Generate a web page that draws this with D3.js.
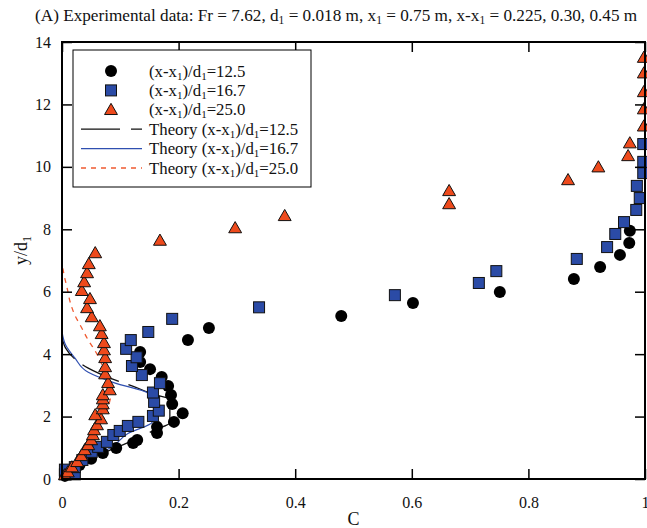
<!DOCTYPE html>
<html>
<head>
<meta charset="utf-8">
<script src="https://cdn.jsdelivr.net/npm/d3@7"></script>
<style>
  body { margin: 0; background: #fff; }
  svg text { font-family: "Liberation Serif", "Times New Roman", serif; fill: #111; }
</style>
</head>
<body>
<div id="chart"></div>
<script>
// Measured points (C, y/d1)
const circles125 = [
  [0.005, 0.10], [0.015, 0.25], [0.03, 0.45], [0.05, 0.65], [0.070, 0.83], [0.093, 0.99],
  [0.122, 1.15], [0.129, 1.25], [0.163, 1.47], [0.163, 1.67], [0.192, 1.83], [0.207, 2.11],
  [0.189, 2.40], [0.187, 2.69], [0.182, 2.98], [0.171, 3.27], [0.151, 3.52], [0.134, 3.75],
  [0.134, 4.07], [0.216, 4.45], [0.252, 4.84], [0.479, 5.22], [0.602, 5.64], [0.751, 5.99],
  [0.878, 6.41], [0.923, 6.79], [0.957, 7.18], [0.973, 7.56], [0.974, 7.95]
];
const squares167 = [
  [0.005, 0.15], [0.022, 0.15], [0.005, 0.30], [0.022, 0.38], [0.035, 0.61], [0.051, 0.87],
  [0.062, 1.03], [0.077, 1.19], [0.088, 1.41], [0.099, 1.54], [0.113, 1.70], [0.131, 1.83],
  [0.156, 2.02], [0.166, 2.19], [0.158, 2.47], [0.156, 2.77], [0.168, 3.07], [0.137, 3.33],
  [0.120, 3.62], [0.128, 3.90], [0.110, 4.17], [0.118, 4.45], [0.148, 4.71], [0.189, 5.13],
  [0.338, 5.50], [0.571, 5.89], [0.715, 6.28], [0.745, 6.66], [0.883, 7.05], [0.935, 7.43],
  [0.949, 7.85], [0.964, 8.23], [0.985, 8.62], [0.991, 9.00], [0.986, 9.39], [0.997, 9.80],
  [0.997, 10.16], [0.997, 10.73]
];
const triangles250 = [
  [0.005, 0.13], [0.010, 0.22], [0.017, 0.38], [0.026, 0.55], [0.033, 0.74], [0.039, 0.93],
  [0.045, 1.09], [0.050, 1.25], [0.053, 1.41], [0.055, 1.57], [0.060, 1.73], [0.067, 1.92],
  [0.057, 2.05], [0.070, 2.24], [0.070, 2.40], [0.070, 2.56], [0.070, 2.69], [0.082, 2.85],
  [0.079, 3.08], [0.074, 3.36], [0.074, 3.59], [0.074, 3.88], [0.072, 4.13], [0.072, 4.36],
  [0.068, 4.65], [0.065, 4.90], [0.051, 5.19], [0.043, 5.48], [0.048, 5.77], [0.034, 6.03],
  [0.038, 6.31], [0.043, 6.60], [0.046, 6.89], [0.057, 7.24], [0.168, 7.64], [0.297, 8.04],
  [0.382, 8.43], [0.664, 8.81], [0.664, 9.23], [0.868, 9.58], [0.920, 9.99], [0.971, 10.35],
  [0.974, 10.76], [0.998, 11.30], [0.998, 11.85], [0.998, 12.40], [0.998, 13.00], [0.998, 13.50]
];

// Theory curves (C, y/d1)
const theory125 = [
  [0, 0], [0.02, 0.30], [0.035, 0.50], [0.062, 0.77], [0.09, 0.98], [0.12, 1.22], [0.16, 1.58],
  [0.185, 1.80], [0.185, 2.55], [0.16, 2.70], [0.12, 2.98], [0.087, 3.20], [0.045, 3.55],
  [0.02, 3.88], [0.006, 4.20], [0, 4.55]
];
const theory167 = [
  [0, 0], [0.022, 0.35], [0.051, 0.67], [0.086, 1.03], [0.113, 1.46], [0.155, 1.83],
  [0.158, 2.50], [0.148, 2.75], [0.09, 3.08], [0.045, 3.42], [0.022, 3.88], [0.006, 4.30], [0, 4.72]
];
const theory250 = [
  [0, 0], [0.02, 0.40], [0.04, 0.90], [0.06, 1.50], [0.075, 2.10], [0.082, 2.50],
  [0.083, 2.60], [0.080, 3.00], [0.070, 3.60], [0.057, 4.10], [0.045, 4.45], [0.033, 4.87],
  [0.022, 5.25], [0.014, 5.67], [0.009, 6.10], [0.004, 6.50], [0, 6.90]
];

const xTicks = [0, 0.2, 0.4, 0.6, 0.8, 1];
const yTicks = [0, 2, 4, 6, 8, 10, 12, 14];
const legendLabels = ['12.5', '16.7', '25.0'];

const W = 647, H = 528;
const margin = { top: 42, right: 2, bottom: 49, left: 62 };
const ih = H - margin.top - margin.bottom;

const x = d3.scaleLinear().domain([0, 1]).range([0, 583]);
const y = d3.scaleLinear().domain([0, 14]).range([ih, 0]);

const svg = d3.select('#chart').append('svg')
  .attr('width', W).attr('height', H);

// Title with subscripts
const title = svg.append('text').attr('x', 35).attr('y', 21).attr('font-size', '17.2px');
const titleParts = [
  ['(A) Experimental data: Fr = 7.62, d', false], ['1', true], [' = 0.018 m, x', false], ['1', true],
  [' = 0.75 m, x-x', false], ['1', true], [' = 0.225, 0.30, 0.45 m', false]
];
titleParts.forEach(([t, sub], i) => {
  const ts = title.append('tspan').text(t);
  if (sub) ts.attr('font-size', '11.5px').attr('dy', 3);
  else if (i > 0) ts.attr('dy', -3);
});

const g = svg.append('g').attr('transform', `translate(${margin.left},${margin.top})`);
const plotW = x(1);

g.append('defs').append('clipPath').attr('id', 'clip')
  .append('rect').attr('x', -8).attr('y', -8).attr('width', plotW + 10).attr('height', ih + 8);

// Theory curves
const line = d3.line().x(d => x(d[0])).y(d => y(d[1])).curve(d3.curveMonotoneY);
const curves = g.append('g').attr('clip-path', 'url(#clip)');
curves.append('path').datum(theory250).attr('d', line).attr('fill', 'none')
  .attr('stroke', '#f05a30').attr('stroke-width', 1.3).attr('stroke-dasharray', '5,5');
curves.append('path').datum(theory125).attr('d', line).attr('fill', 'none')
  .attr('stroke', '#111').attr('stroke-width', 1.3).attr('stroke-dasharray', '40,10');
curves.append('path').datum(theory167).attr('d', line).attr('fill', 'none')
  .attr('stroke', '#2f4fb0').attr('stroke-width', 1.2);

// Markers
const marks = g.append('g');
const sq = 11;
const tri = d3.symbol().type(d3.symbolTriangle).size(72);

marks.selectAll('.circ').data(circles125).join('circle')
  .attr('cx', d => x(d[0])).attr('cy', d => y(d[1])).attr('r', 6)
  .attr('fill', '#000');
marks.selectAll('.sq').data(squares167).join('rect')
  .attr('x', d => x(d[0]) - sq / 2).attr('y', d => y(d[1]) - sq / 2)
  .attr('width', sq).attr('height', sq)
  .attr('fill', '#2b4ba6').attr('stroke', '#111').attr('stroke-width', 1);
marks.selectAll('.tri').data(triangles250).join('path')
  .attr('d', tri)
  .attr('transform', d => `translate(${x(d[0])},${y(d[1]) + 1})`)
  .attr('fill', '#ee4a1c').attr('stroke', '#111').attr('stroke-width', 1);

// Frame and inward ticks
g.append('rect').attr('width', plotW).attr('height', ih)
  .attr('fill', 'none').attr('stroke', '#000').attr('stroke-width', 2);

const tl = 10;
const axB = g.append('g').attr('transform', `translate(0,${ih})`)
  .call(d3.axisBottom(x).tickValues(xTicks).tickSize(-tl).tickPadding(18)
    .tickFormat(d => d === 0 || d === 1 ? d3.format('d')(d) : d3.format('.1f')(d)));
const axT = g.append('g')
  .call(d3.axisTop(x).tickValues(xTicks).tickSize(-tl).tickFormat(''));
const axL = g.append('g')
  .call(d3.axisLeft(y).tickValues(yTicks).tickSize(-tl).tickPadding(10).tickFormat(d3.format('d')));
const axR = g.append('g').attr('transform', `translate(${plotW},0)`)
  .call(d3.axisRight(y).tickValues(yTicks).tickSize(-tl).tickFormat(''));
[axB, axT, axL, axR].forEach(a => {
  a.select('.domain').remove();
  a.selectAll('line').attr('stroke', '#000').attr('stroke-width', 1.5);
  a.selectAll('text').attr('font-size', '16px').attr('fill', '#111')
    .attr('font-family', '"Liberation Serif", serif');
});
axB.selectAll('text').attr('dy', '0.71em');
axL.selectAll('text').attr('dx', '-1');

// Axis titles
svg.append('text').attr('x', margin.left + plotW / 2).attr('y', 525)
  .attr('text-anchor', 'middle').attr('font-size', '18px').text('C');
const yl = svg.append('text')
  .attr('transform', `translate(27,${margin.top + ih / 2 - 10}) rotate(-90)`)
  .attr('text-anchor', 'middle').attr('font-size', '18px');
yl.append('tspan').text('y/d');
yl.append('tspan').text('1').attr('font-size', '12px').attr('dy', 4);

// Legend
const lg = svg.append('g');
lg.append('rect').attr('x', 73).attr('y', 50).attr('width', 238).attr('height', 137)
  .attr('fill', '#fff').attr('stroke', '#000').attr('stroke-width', 1);
const rowY = i => 71 + i * 19.4;
const mx = 111;
lg.append('circle').attr('cx', mx).attr('cy', rowY(0)).attr('r', 6).attr('fill', '#000');
lg.append('rect').attr('x', mx - sq / 2).attr('y', rowY(1) - sq / 2).attr('width', sq).attr('height', sq)
  .attr('fill', '#2b4ba6').attr('stroke', '#111');
lg.append('path').attr('d', tri).attr('transform', `translate(${mx},${rowY(2) + 1})`)
  .attr('fill', '#ee4a1c').attr('stroke', '#111');
const lineStyles = [
  { stroke: '#111', dash: '39,11' },
  { stroke: '#2f4fb0', dash: null },
  { stroke: '#f05a30', dash: '5,5' }
];
lineStyles.forEach((s, i) => {
  lg.append('line').attr('x1', 81).attr('x2', 142).attr('y1', rowY(3 + i)).attr('y2', rowY(3 + i))
    .attr('stroke', s.stroke).attr('stroke-width', 1.3).attr('stroke-dasharray', s.dash);
});
const legendText = (i, prefix, val) => {
  const t = lg.append('text').attr('x', 149).attr('y', rowY(i) + 5.5).attr('font-size', '16.8px');
  t.append('tspan').text(prefix + '(x-x');
  t.append('tspan').text('1').attr('font-size', '11px').attr('dy', 3);
  t.append('tspan').text(')/d').attr('dy', -3);
  t.append('tspan').text('1').attr('font-size', '11px').attr('dy', 3);
  t.append('tspan').text('=' + val).attr('dy', -3);
};
legendLabels.forEach((v, i) => legendText(i, '', v));
legendLabels.forEach((v, i) => legendText(3 + i, 'Theory ', v));
</script>
</body>
</html>
